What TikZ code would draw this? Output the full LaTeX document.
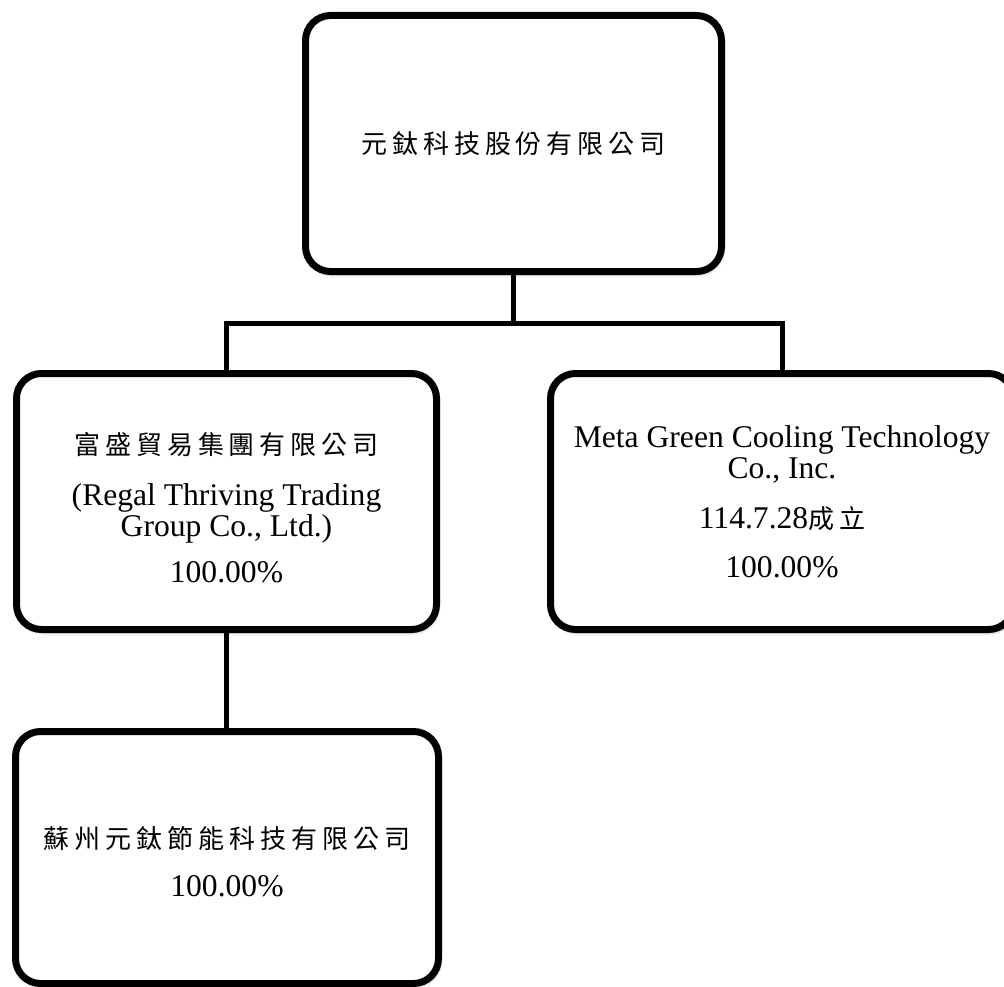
\documentclass[tikz,border=0pt]{standalone}
\usepackage{fontspec}
\setmainfont{Liberation Serif}
\newfontfamily\cjk{Noto Sans CJK TC}[LetterSpace=19]
\usetikzlibrary{shadows.blur}
\newcommand\zhtxt[1]{{\cjk\fontsize{26}{31}\selectfont #1}}
\begin{document}
\begin{tikzpicture}[x=1pt,y=-1pt,
  box/.style={draw, line width=7pt, rounded corners=25pt, fill=white, inner sep=0pt,
    align=center, font=\fontsize{31.6}{31}\selectfont,
    blur shadow={shadow xshift=1.5pt, shadow yshift=-3pt, shadow blur radius=3pt, shadow opacity=35}},
  link/.style={line width=5pt}]
\useasboundingbox (0,0) rectangle (1004,987);
\node[box, minimum width=416pt, minimum height=256pt] (top) at (513.5,143.5)
  {\zhtxt{元鈦科技股份有限公司}};
\node[box, minimum width=420pt, minimum height=256pt] (left) at (226.5,501.5)
  {\rule{0pt}{35pt}\zhtxt{富盛貿易集團有限公司}\\[20pt](Regal Thriving Trading\\Group Co., Ltd.)\\[15pt]100.00\%};
\node[box, minimum width=463pt, minimum height=256pt] (right) at (782,501.5)
  {Meta Green Cooling Technology\\Co., Inc.\\[19pt]114.7.28\zhtxt{成立}\\[18pt]100.00\%};
\node[box, minimum width=423pt, minimum height=252pt] (bottom) at (227,857.5)
  {\rule{0pt}{31pt}\zhtxt{蘇州元鈦節能科技有限公司}\\[17pt]100.00\%};
\coordinate (j) at (513.5,323);
\draw[link] (top.south) -- (j);
\draw[link] (left.north) -- (left.north |- j) -- (right.north |- j) -- (right.north);
\draw[link] (left.south) -- (left.south |- bottom.north);
\end{tikzpicture}
\end{document}
